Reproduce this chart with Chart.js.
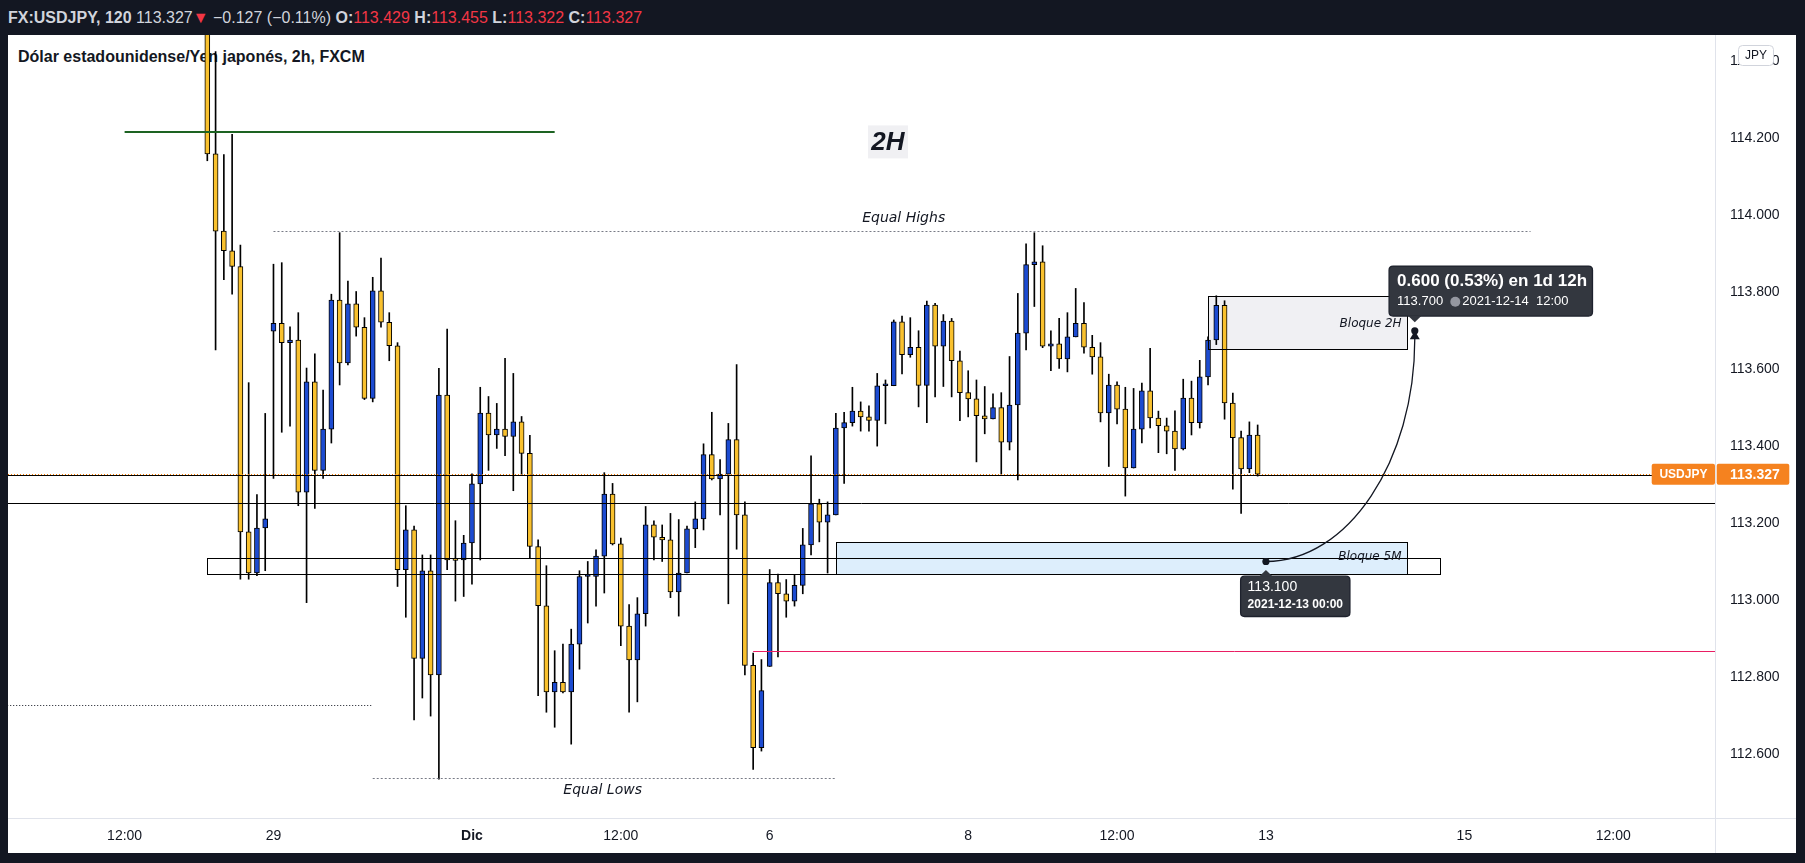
<!DOCTYPE html>
<html lang="es">
<head>
<meta charset="utf-8">
<title>FX:USDJPY 2h</title>
<script src="https://cdn.jsdelivr.net/npm/chart.js@4.4.1/dist/chart.umd.min.js"></script>
<style>
  html, body { margin: 0; padding: 0; width: 1805px; height: 863px; overflow: hidden; background: #131722; }
  #hdr { position: absolute; left: 8px; top: 0; height: 35px; font: 16px 'Liberation Sans', Arial, sans-serif; line-height: 35px; color: #d1d4dc; white-space: nowrap; }
  #hdr .dn { color: #f23645; }
  #wrap { position: absolute; left: 8px; top: 35px; width: 1788px; height: 818px; background: #fff; }
  #title { position: absolute; left: 10px; top: 13px; font: bold 16px 'Liberation Sans', Arial, sans-serif; color: #131722; white-space: nowrap; }
  #cw { position: absolute; left: 0; top: 0; width: 1788px; height: 818px; }
</style>
</head>
<body>
<div id="hdr"><b>FX:USDJPY, 120</b> 113.327<span class="dn">▼</span> −0.127 (−0.11%) <b>O:</b><span class="dn">113.429</span> <b>H:</b><span class="dn">113.455</span> <b>L:</b><span class="dn">113.322</span> <b>C:</b><span class="dn">113.327</span></div>
<div id="wrap">
  <div id="title">Dólar estadounidense/Yen japonés, 2h, FXCM</div>
  <div id="cw"><canvas id="chart"></canvas></div>
</div>
<script>
(function () {
  'use strict';

  // 2h candles, 26 Nov -> 10 Dic 2021 (bar index = position)
  const opens = [
    114.600, 114.160, 113.959, 113.908, 113.867, 113.177, 113.070, 113.187, 113.699, 113.719,
    113.669, 113.676, 113.280, 113.567, 113.337, 113.444, 113.780, 113.616, 113.770, 113.709,
    113.524, 113.804, 113.722, 113.661, 113.079, 113.182, 112.848, 113.076, 112.805, 113.533,
    113.105, 113.104, 113.148, 113.302, 113.486, 113.429, 113.444, 113.425, 113.463, 113.381,
    113.139, 112.985, 112.761, 112.786, 112.761, 112.885, 113.061, 113.061, 113.114, 113.275,
    113.146, 112.932, 112.844, 112.964, 113.195, 113.163, 113.156, 113.021, 113.070, 113.185,
    113.211, 113.378, 113.315, 113.327, 113.417, 113.221, 112.830, 112.616, 112.827, 113.045,
    113.016, 112.997, 113.038, 113.143, 113.250, 113.202, 113.221, 113.447, 113.461, 113.491,
    113.476, 113.467, 113.557, 113.557, 113.723, 113.638, 113.657, 113.558, 113.767, 113.660,
    113.725, 113.622, 113.539, 113.523, 113.479, 113.471, 113.500, 113.410, 113.507, 113.694,
    113.872, 113.879, 113.660, 113.666, 113.627, 113.684, 113.719, 113.657, 113.632, 113.486,
    113.559, 113.496, 113.343, 113.444, 113.544, 113.473, 113.453, 113.439, 113.393, 113.525,
    113.461, 113.580, 113.676, 113.766, 113.512, 113.422, 113.341, 113.429
  ];
  const highs = [
    114.650, 114.426, 114.158, 114.211, 113.923, 113.565, 113.274, 113.485, 113.873, 113.877,
    113.710, 113.747, 113.603, 113.640, 113.546, 113.795, 113.955, 113.829, 113.802, 113.734,
    113.839, 113.889, 113.747, 113.669, 113.245, 113.192, 113.117, 113.117, 113.602, 113.704,
    113.206, 113.168, 113.328, 113.553, 113.529, 113.511, 113.628, 113.589, 113.477, 113.428,
    113.156, 113.089, 112.868, 112.885, 112.924, 113.076, 113.100, 113.130, 113.331, 113.303,
    113.161, 112.988, 113.006, 113.243, 113.206, 113.195, 113.225, 113.209, 113.192, 113.255,
    113.406, 113.488, 113.365, 113.459, 113.612, 113.255, 112.862, 112.845, 113.079, 113.067,
    113.053, 113.066, 113.186, 113.375, 113.262, 113.255, 113.485, 113.488, 113.553, 113.515,
    113.505, 113.589, 113.572, 113.728, 113.738, 113.734, 113.700, 113.777, 113.771, 113.742,
    113.732, 113.647, 113.596, 113.572, 113.555, 113.536, 113.539, 113.633, 113.797, 113.926,
    113.955, 113.921, 113.700, 113.732, 113.747, 113.810, 113.773, 113.688, 113.669, 113.587,
    113.567, 113.553, 113.550, 113.564, 113.654, 113.491, 113.473, 113.492, 113.574, 113.569,
    113.623, 113.684, 113.791, 113.778, 113.538, 113.439, 113.463, 113.455
  ];
  const lows = [
    114.142, 113.650, 113.833, 113.795, 113.054, 113.054, 113.063, 113.076, 113.316, 113.436,
    113.452, 113.245, 112.993, 113.238, 113.316, 113.408, 113.559, 113.611, 113.686, 113.521,
    113.515, 113.709, 113.622, 113.035, 112.955, 112.688, 112.745, 112.698, 112.534, 113.079,
    112.997, 113.009, 113.041, 113.104, 113.337, 113.394, 113.375, 113.284, 113.325, 113.110,
    112.751, 112.708, 112.669, 112.758, 112.625, 112.820, 112.940, 112.984, 113.018, 113.143,
    112.881, 112.708, 112.735, 112.932, 113.104, 113.100, 113.006, 112.958, 113.070, 113.136,
    113.182, 113.312, 113.221, 112.990, 113.132, 112.805, 112.559, 112.607, 112.827, 112.852,
    112.955, 112.984, 113.016, 113.117, 113.151, 113.070, 113.221, 113.303, 113.452, 113.439,
    113.439, 113.400, 113.458, 113.557, 113.588, 113.631, 113.502, 113.461, 113.528, 113.555,
    113.528, 113.466, 113.476, 113.359, 113.432, 113.471, 113.327, 113.390, 113.312, 113.650,
    113.763, 113.656, 113.596, 113.602, 113.593, 113.684, 113.642, 113.587, 113.463, 113.347,
    113.458, 113.270, 113.343, 113.408, 113.447, 113.383, 113.380, 113.337, 113.390, 113.429,
    113.447, 113.559, 113.664, 113.470, 113.288, 113.225, 113.331, 113.322
  ];
  const closes = [
    114.160, 113.959, 113.908, 113.867, 113.177, 113.070, 113.187, 113.211, 113.719, 113.669,
    113.676, 113.280, 113.567, 113.337, 113.444, 113.780, 113.616, 113.770, 113.709, 113.524,
    113.804, 113.722, 113.661, 113.079, 113.182, 112.848, 113.076, 112.805, 113.533, 113.104,
    113.103, 113.148, 113.302, 113.486, 113.429, 113.444, 113.425, 113.463, 113.381, 113.139,
    112.985, 112.761, 112.786, 112.761, 112.885, 113.061, 113.063, 113.114, 113.275, 113.146,
    112.932, 112.844, 112.964, 113.195, 113.163, 113.156, 113.021, 113.070, 113.185, 113.211,
    113.378, 113.315, 113.327, 113.417, 113.221, 112.830, 112.616, 112.764, 113.045, 113.016,
    112.997, 113.038, 113.143, 113.250, 113.202, 113.221, 113.447, 113.461, 113.491, 113.476,
    113.467, 113.557, 113.558, 113.723, 113.638, 113.657, 113.558, 113.767, 113.660, 113.725,
    113.622, 113.539, 113.523, 113.479, 113.471, 113.500, 113.410, 113.507, 113.694, 113.872,
    113.879, 113.660, 113.666, 113.627, 113.684, 113.719, 113.657, 113.632, 113.486, 113.559,
    113.496, 113.343, 113.444, 113.544, 113.473, 113.453, 113.439, 113.393, 113.525, 113.461,
    113.580, 113.676, 113.766, 113.512, 113.422, 113.341, 113.429, 113.327
  ];

  // time axis labels (bar index where they sit)
  const timeTickPos = [-10, 8, 32, 50, 68, 92, 110, 128, 152, 170];
  const timeTickLabels = ['12:00', '29', 'Dic', '12:00', '6', '8', '12:00', '13', '15', '12:00'];
  const priceTicks = [112.6, 112.8, 113.0, 113.2, 113.4, 113.6, 113.8, 114.0, 114.2, 114.4];

  // drawings on the chart
  const lastPrice = 113.327;
  const blackLevel = 113.251;
  const greenLevel = { from: -10, to: 42, price: 114.218 };
  const equalHighs = { from: 8, to: 160, price: 113.959 };
  const equalLows = { from: 20, to: 76, price: 112.536 };
  const lowDotted = { from: -30, to: 20, price: 112.728 };
  const pinkLevel = { from: 66, to: 200, price: 112.866 };
  const box2H = { from: 121, to: 145, top: 113.791, bottom: 113.652 };
  const box5M = { from: 76, to: 145, top: 113.151, bottom: 113.067 };
  const outerBox = { from: 0, to: 149, top: 113.108, bottom: 113.067 };
  const measureFrom = { x: 128, price: 113.100 };
  const measureTo = { x: 146, price: 113.700 };

  const UP = '#1c4bd1';
  const DOWN = '#f9c12e';
  const FONT = "'Liberation Sans', Arial, sans-serif";
  const NOTE_FONT = "'DejaVu Sans', Verdana, sans-serif";

  const idx = opens.map((_, i) => i);

  function hline(ctx, x1, x2, y, color, width, dash) {
    ctx.save();
    ctx.strokeStyle = color;
    ctx.lineWidth = width;
    ctx.setLineDash(dash || []);
    const yy = Math.round(y) + (width % 2 ? 0.5 : 0);
    ctx.beginPath();
    ctx.moveTo(x1, yy);
    ctx.lineTo(x2, yy);
    ctx.stroke();
    ctx.restore();
  }

  function rrect(ctx, x, y, w, h, r) {
    ctx.beginPath();
    ctx.moveTo(x + r, y);
    ctx.lineTo(x + w - r, y);
    ctx.quadraticCurveTo(x + w, y, x + w, y + r);
    ctx.lineTo(x + w, y + h - r);
    ctx.quadraticCurveTo(x + w, y + h, x + w - r, y + h);
    ctx.lineTo(x + r, y + h);
    ctx.quadraticCurveTo(x, y + h, x, y + h - r);
    ctx.lineTo(x, y + r);
    ctx.quadraticCurveTo(x, y, x + r, y);
    ctx.closePath();
  }

  function boxRect(x, y, b) {
    const l = Math.round(x.getPixelForValue(b.from)) + 0.5;
    const r = Math.round(x.getPixelForValue(b.to)) + 0.5;
    const t = Math.round(y.getPixelForValue(b.top)) + 0.5;
    const bt = Math.round(y.getPixelForValue(b.bottom)) + 0.5;
    return { l, t, w: r - l, h: bt - t };
  }

  const drawings = {
    id: 'drawings',
    beforeDatasetsDraw(chart) {
      const { ctx, chartArea: a, scales: { x, y } } = chart;
      ctx.save();
      ctx.beginPath();
      ctx.rect(a.left, a.top, a.width, a.height);
      ctx.clip();

      let b = boxRect(x, y, box2H);
      ctx.fillStyle = '#f0f0f3';
      ctx.fillRect(b.l, b.t, b.w, b.h);
      b = boxRect(x, y, box5M);
      ctx.fillStyle = '#ddeefc';
      ctx.fillRect(b.l, b.t, b.w, b.h);

      // 2H tag
      const tx = x.getPixelForValue(82.3);
      const ty = y.getPixelForValue(114.191);
      ctx.fillStyle = '#f0f0f3';
      ctx.fillRect(tx - 20, ty - 16.5, 40, 33);
      ctx.fillStyle = '#131722';
      ctx.font = 'italic bold 26px ' + FONT;
      ctx.textAlign = 'center';
      ctx.textBaseline = 'middle';
      ctx.fillText('2H', tx, ty + 1);
      ctx.restore();
    },

    afterDatasetsDraw(chart) {
      const { ctx, chartArea: a, scales: { x, y } } = chart;
      const px = (v) => x.getPixelForValue(v);
      const py = (v) => y.getPixelForValue(v);
      ctx.save();
      ctx.beginPath();
      ctx.rect(a.left, a.top, a.width, a.height);
      ctx.clip();

      // levels
      hline(ctx, px(greenLevel.from), px(greenLevel.to), py(greenLevel.price), '#1d6322', 2);
      hline(ctx, px(equalHighs.from), px(equalHighs.to), py(equalHighs.price), '#787b86', 1, [2, 2]);
      hline(ctx, px(equalLows.from), px(equalLows.to), py(equalLows.price), '#787b86', 1, [2, 2]);
      hline(ctx, px(lowDotted.from), px(lowDotted.to), py(lowDotted.price), '#131722', 1, [1, 2]);
      hline(ctx, px(pinkLevel.from), px(pinkLevel.to), py(pinkLevel.price), '#e91e63', 1);
      hline(ctx, a.left, a.right, py(blackLevel), '#000', 1);
      hline(ctx, a.left, a.right, py(lastPrice) + 1, '#000', 1);
      hline(ctx, a.left, a.right, py(lastPrice) - 0.5, '#f57c00', 1, [1, 2]);

      // boxes
      ctx.strokeStyle = '#000';
      ctx.lineWidth = 1;
      [box2H, box5M, outerBox].forEach((bx) => {
        const b = boxRect(x, y, bx);
        ctx.strokeRect(b.l, b.t, b.w, b.h);
      });

      // labels
      ctx.fillStyle = '#131722';
      ctx.textBaseline = 'middle';
      ctx.textAlign = 'center';
      ctx.font = 'italic 14px ' + NOTE_FONT;
      ctx.fillText('Equal Highs', px(84.2), py(113.991));
      ctx.fillText('Equal Lows', px(47.8), py(112.505));
      ctx.textAlign = 'right';
      ctx.font = 'italic 12px ' + NOTE_FONT;
      ctx.fillText('Bloque 2H', px(144.4), py(113.719));
      ctx.fillText('Bloque 5M', px(144.4), py(113.112));

      // measure curve
      const sx = px(measureFrom.x), sy = py(measureFrom.price);
      const ex = px(measureTo.x), ey = py(measureTo.price);
      ctx.strokeStyle = '#131722';
      ctx.lineWidth = 1.3;
      ctx.beginPath();
      ctx.moveTo(sx, sy);
      ctx.bezierCurveTo(sx + 0.55 * (ex - sx), sy, ex, ey + 8 + 0.55 * (sy - ey - 8), ex, ey + 8);
      ctx.stroke();
      ctx.fillStyle = '#131722';
      ctx.beginPath();
      ctx.arc(sx, sy, 3.6, 0, Math.PI * 2);
      ctx.fill();
      ctx.beginPath();
      ctx.moveTo(ex - 5, ey + 8.5);
      ctx.lineTo(ex + 5, ey + 8.5);
      ctx.lineTo(ex, ey);
      ctx.closePath();
      ctx.fill();
      ctx.beginPath();
      ctx.arc(ex, ey, 3.6, 0, Math.PI * 2);
      ctx.fill();

      // measure bubble (target)
      ctx.fillStyle = '#33373f';
      ctx.strokeStyle = '#1e222d';
      rrect(ctx, ex - 25.7, ey - 64.7, 203.4, 50, 4);
      ctx.fill();
      ctx.stroke();
      ctx.beginPath();
      ctx.moveTo(ex - 7, ey - 15.2);
      ctx.lineTo(ex + 7, ey - 15.2);
      ctx.lineTo(ex, ey - 8.5);
      ctx.closePath();
      ctx.fill();
      ctx.fillStyle = '#ffffff';
      ctx.textAlign = 'left';
      ctx.font = 'bold 17px ' + FONT;
      ctx.fillText('0.600 (0.53%) en 1d 12h', ex - 17.7, ey - 49.5);
      ctx.font = '13px ' + FONT;
      ctx.fillText('113.700', ex - 17.7, ey - 29);
      ctx.fillStyle = '#9598a1';
      ctx.beginPath();
      ctx.arc(ex + 40.5, ey - 29, 5, 0, Math.PI * 2);
      ctx.fill();
      ctx.fillStyle = '#ffffff';
      ctx.fillText('2021-12-14  12:00', ex + 47.5, ey - 29);

      // measure bubble (start)
      ctx.fillStyle = '#33373f';
      rrect(ctx, sx - 25.3, sy + 14.7, 109.3, 40.3, 4);
      ctx.fill();
      ctx.stroke();
      ctx.beginPath();
      ctx.moveTo(sx - 7, sy + 15.2);
      ctx.lineTo(sx + 7, sy + 15.2);
      ctx.lineTo(sx, sy + 8.5);
      ctx.closePath();
      ctx.fill();
      ctx.fillStyle = '#ffffff';
      ctx.font = '14px ' + FONT;
      ctx.fillText('113.100', sx - 18.3, sy + 26);
      ctx.font = 'bold 12px ' + FONT;
      ctx.fillText('2021-12-13 00:00', sx - 18.3, sy + 43.5);
      ctx.restore();
    },

    afterDraw(chart) {
      const { ctx, chartArea: a, scales: { y } } = chart;
      ctx.save();
      // axis separators
      ctx.strokeStyle = '#e0e3eb';
      ctx.lineWidth = 1;
      ctx.beginPath();
      ctx.moveTo(Math.round(a.right) + 0.5, 0);
      ctx.lineTo(Math.round(a.right) + 0.5, chart.height);
      ctx.moveTo(0, Math.round(a.bottom) + 0.5);
      ctx.lineTo(chart.width, Math.round(a.bottom) + 0.5);
      ctx.stroke();

      // last price badges
      const ly = y.getPixelForValue(lastPrice);
      ctx.fillStyle = '#f5821f';
      rrect(ctx, a.right - 63.3, ly - 10.5, 63.3, 21, 2);
      ctx.fill();
      rrect(ctx, a.right + 1.7, ly - 10.5, 72.6, 21, 2);
      ctx.fill();
      ctx.fillStyle = '#ffffff';
      ctx.textBaseline = 'middle';
      ctx.textAlign = 'center';
      ctx.font = 'bold 12px ' + FONT;
      ctx.fillText('USDJPY', a.right - 31.6, ly + 0.5);
      ctx.textAlign = 'left';
      ctx.font = 'bold 14px ' + FONT;
      ctx.fillText(lastPrice.toFixed(3), a.right + 15, ly + 0.5);

      // currency button
      ctx.fillStyle = '#ffffff';
      ctx.strokeStyle = '#d1d4dc';
      rrect(ctx, a.right + 23.5, 10.5, 35, 20, 4);
      ctx.fill();
      ctx.stroke();
      ctx.fillStyle = '#131722';
      ctx.textAlign = 'center';
      ctx.font = '12px ' + FONT;
      ctx.fillText('JPY', a.right + 41, 20.5);
      ctx.restore();
    }
  };

  function noPadding(s) {
    s.paddingTop = 0;
    s.paddingBottom = 0;
    s.paddingLeft = 0;
    s.paddingRight = 0;
  }

  new Chart(document.getElementById('chart'), {
    type: 'bar',
    data: {
      datasets: [
        {
          label: 'Cuerpo',
          data: idx.map((i) => ({ x: i, y: [opens[i], closes[i]] })),
          backgroundColor: idx.map((i) => (closes[i] >= opens[i] ? UP : DOWN)),
          borderColor: '#000',
          borderWidth: 1,
          borderSkipped: false,
          barThickness: 5,
          minBarLength: 2,
          grouped: false,
          order: 1,
        },
        {
          label: 'Mecha',
          data: idx.map((i) => ({ x: i, y: [lows[i], highs[i]] })),
          backgroundColor: '#000',
          borderWidth: 0,
          barThickness: 1,
          grouped: false,
          order: 2,
        },
      ],
    },
    options: {
      responsive: true,
      maintainAspectRatio: false,
      animation: false,
      layout: { padding: 0 },
      plugins: { legend: { display: false }, tooltip: { enabled: false } },
      scales: {
        x: {
          type: 'linear',
          min: -24.1,
          max: 182.3,
          offset: false,
          grid: { display: false, drawTicks: false },
          border: { display: false },
          afterBuildTicks: (s) => { s.ticks = timeTickPos.map((v) => ({ value: v })); },
          afterFit: (s) => { s.height = 35; noPadding(s); },
          ticks: {
            autoSkip: false,
            maxRotation: 0,
            padding: 10,
            color: '#131722',
            font: (c) => ({ family: FONT, size: 14, weight: timeTickLabels[c.index] === 'Dic' ? 'bold' : 'normal' }),
            callback: (v, i) => timeTickLabels[i],
          },
        },
        y: {
          type: 'linear',
          position: 'right',
          min: 112.433,
          max: 114.469,
          grid: { display: false, drawTicks: false },
          border: { display: false },
          afterBuildTicks: (s) => { s.ticks = priceTicks.map((v) => ({ value: v })); },
          afterFit: (s) => { s.width = 81; noPadding(s); },
          ticks: {
            padding: 15,
            color: '#131722',
            font: { family: FONT, size: 14 },
            callback: (v) => Number(v).toFixed(3),
          },
        },
      },
    },
    plugins: [drawings],
  });
})();
</script>
</body>
</html>
